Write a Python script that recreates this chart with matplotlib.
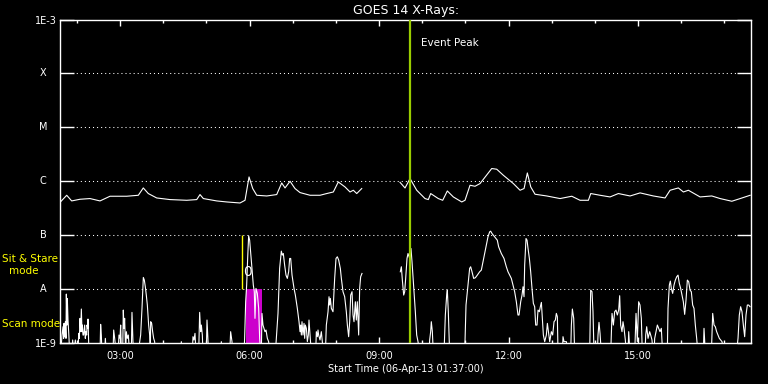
import matplotlib.pyplot as plt
import matplotlib.transforms as mtransforms
from matplotlib.ticker import MultipleLocator, FuncFormatter, NullLocator
import numpy as np

# GOES 14 X-ray flux, 06-Apr-13. time in hours UT, flux as log10(W/m^2)
# long channel (1-8 A)
long_hours = [1.617, 1.763, 1.878, 2.071, 2.303, 2.534, 2.766, 3.153, 3.422, 3.537,
              3.653, 3.848, 4.156, 4.543, 4.775, 4.851, 4.928, 5.238, 5.470, 5.778,
              5.894, 5.987, 6.072, 6.165, 6.397, 6.628, 6.744, 6.821, 6.937, 7.052,
              7.168, 7.400, 7.632, 7.787, 7.940, 8.055, 8.211, 8.327, 8.403, 8.482,
              8.598, 9.000,
              9.485, 9.601, 9.717, 9.872, 10.064, 10.141, 10.196, 10.257, 10.372, 10.474,
              10.581, 10.720, 10.915, 10.991, 11.107, 11.223, 11.339, 11.610, 11.726, 11.879,
              12.111, 12.266, 12.359, 12.435, 12.514, 12.613, 12.884, 13.193, 13.464, 13.656,
              13.849, 13.904, 14.120, 14.351, 14.544, 14.815, 15.047, 15.355, 15.626, 15.742,
              15.934, 16.050, 16.166, 16.437, 16.708, 16.901, 17.172, 17.366, 17.597]
long_log = [-6.384, -6.260, -6.365, -6.334, -6.321, -6.365, -6.278, -6.278, -6.260, -6.124,
            -6.228, -6.310, -6.340, -6.353, -6.340, -6.247, -6.321, -6.365, -6.384, -6.403,
            -6.353, -5.920, -6.135, -6.260, -6.273, -6.247, -6.032, -6.124, -6.000, -6.135,
            -6.210, -6.260, -6.260, -6.228, -6.199, -6.013, -6.106, -6.199, -6.167, -6.228,
            -6.135, np.nan,
            -6.020, -6.125, -5.950, -6.167, -6.321, -6.340, -6.228, -6.260, -6.321, -6.353,
            -6.180, -6.291, -6.384, -6.353, -6.074, -6.093, -6.043, -5.764, -5.777, -5.889,
            -6.043, -6.167, -6.135, -5.846, -6.106, -6.241, -6.273, -6.321, -6.278, -6.353,
            -6.353, -6.228, -6.260, -6.291, -6.228, -6.273, -6.216, -6.273, -6.310, -6.167,
            -6.124, -6.199, -6.167, -6.291, -6.273, -6.321, -6.371, -6.321, -6.260]

# short channel (0.5-4 A), values under 1E-9 run off the bottom
short_hours = [
    1.623, 1.654, 1.677, 1.692, 1.700, 1.715, 1.731, 1.746, 1.754, 1.769, 1.777, 1.793, 1.816, 1.831,
    1.885, 1.901, 1.924, 1.963, 1.986, 2.024, 2.040, 2.055, 2.071, 2.086, 2.102, 2.117, 2.125, 2.140,
    2.156, 2.171, 2.179, 2.194, 2.210, 2.225, 2.233, 2.248, 2.256, 2.279, 2.534, 2.549, 2.565, 2.580,
    2.642, 2.658, 2.681, 2.835, 2.851, 2.874, 2.912, 2.951, 2.974, 2.997, 3.013, 3.028, 3.059, 3.074,
    3.090, 3.105, 3.129, 3.144, 3.167, 3.190, 3.221, 3.260, 3.275, 3.298, 3.322, 3.414, 3.453, 3.476,
    3.507, 3.538, 3.561, 3.584, 3.607, 3.631, 3.661, 3.685, 3.700, 3.708, 3.731, 3.754, 3.777, 3.800,
    3.824, 4.403, 4.418, 4.434, 4.673, 4.688, 4.712, 4.735, 4.758, 4.820, 4.843, 4.866, 4.882, 4.905,
    4.920, 4.997, 5.013, 5.036, 5.051, 5.329, 5.345, 5.360, 5.538, 5.561, 5.592, 5.607, 5.870, 5.885,
    5.909, 5.932, 5.955, 5.978, 6.001, 6.024, 6.055, 6.086, 6.109, 6.125, 6.148, 6.179, 6.210, 6.233,
    6.256, 6.271, 6.287, 6.310, 6.333, 6.356, 6.380, 6.411, 6.441, 6.472, 6.596, 6.619, 6.658, 6.696,
    6.735, 6.758, 6.781, 6.812, 6.843, 6.874, 6.905, 6.928, 6.952, 6.983, 7.029, 7.060, 7.106, 7.145,
    7.168, 7.183, 7.199, 7.214, 7.237, 7.261, 7.276, 7.292, 7.315, 7.338, 7.361, 7.376, 7.400, 7.431,
    7.531, 7.546, 7.570, 7.585, 7.600, 7.631, 7.662, 7.685, 7.709, 7.755, 7.778, 7.817, 7.840, 7.855,
    7.871, 7.894, 7.932, 7.971, 8.002, 8.033, 8.064, 8.102, 8.126, 8.164, 8.203, 8.241, 8.265, 8.295,
    8.319, 8.342, 8.373, 8.396, 8.419, 8.450, 8.473, 8.496, 8.527, 8.550, 8.573, 8.604, 9.000,
    9.492, 9.516, 9.539, 9.570, 9.593, 9.616, 9.647, 9.670, 9.709, 9.739, 9.763, 9.786, 9.809, 9.840,
    9.871, 9.902, 9.940, 10.157, 10.172, 10.195, 10.210, 10.234, 10.257, 10.504, 10.535, 10.566, 10.581,
    10.604, 10.635, 10.983, 11.014, 11.044, 11.075, 11.098, 11.122, 11.153, 11.191, 11.230, 11.276,
    11.330, 11.369, 11.407, 11.446, 11.485, 11.523, 11.562, 11.585, 11.616, 11.678, 11.739, 11.770,
    11.832, 11.894, 11.948, 11.987, 12.025, 12.064, 12.102, 12.141, 12.180, 12.218, 12.242, 12.281,
    12.312, 12.335, 12.358, 12.373, 12.404, 12.428, 12.451, 12.482, 12.512, 12.543, 12.574, 12.605,
    12.628, 12.659, 12.682, 12.713, 12.736, 12.760, 12.783, 12.806, 12.837, 12.875, 12.899, 12.929,
    12.953, 12.991, 13.022, 13.053, 13.084, 13.107, 13.130, 13.146, 13.246, 13.261, 13.285, 13.339,
    13.377, 13.439, 13.455, 13.478, 13.509, 13.532, 13.879, 13.902, 13.933, 13.956, 13.980, 14.057,
    14.072, 14.095, 14.119, 14.150, 14.366, 14.397, 14.428, 14.458, 14.489, 14.520, 14.551, 14.574,
    14.597, 14.628, 14.651, 14.675, 14.705, 14.729, 14.767, 14.783, 14.813, 14.922, 14.953, 14.983,
    15.014, 15.045, 15.076, 15.099, 15.161, 15.177, 15.200, 15.231, 15.269, 15.292, 15.323, 15.347,
    15.370, 15.385, 15.447, 15.478, 15.509, 15.539, 15.570, 15.678, 15.694, 15.725, 15.748, 15.771,
    15.802, 15.833, 15.864, 15.895, 15.926, 15.956, 15.987, 16.018, 16.049, 16.080, 16.111, 16.142,
    16.173, 16.204, 16.234, 16.265, 16.296, 16.327, 16.358, 16.389, 16.512, 16.528, 16.559, 16.698,
    16.729, 16.760, 16.790, 16.821, 16.852, 16.883, 16.914, 16.945, 16.991, 17.277, 17.316, 17.346,
    17.377, 17.408, 17.439, 17.470, 17.501, 17.532, 17.563, 17.594]
short_log = [
    -9.2, -8.852, -8.698, -8.914, -8.636, -8.883, -8.605, -8.914, -8.093, -8.667, -8.173, -8.574, -8.914, -9.2,
    -9.2, -8.944, -9.2, -8.944, -9.2, -9.2, -8.821, -8.914, -8.543, -8.790, -8.370, -8.790, -8.667, -8.852,
    -8.852, -8.728, -8.667, -8.914, -8.790, -8.852, -8.667, -8.728, -8.556, -9.2, -9.2, -8.654, -8.852, -9.2,
    -9.2, -8.914, -9.2, -9.2, -8.759, -8.914, -9.2, -9.2, -8.852, -8.914, -8.667, -9.2, -9.2, -8.389,
    -8.728, -8.543, -9.2, -8.790, -8.914, -8.852, -9.2, -9.2, -8.432, -8.975, -9.2, -9.2, -8.975, -8.852,
    -8.358, -7.784, -7.833, -7.957, -8.111, -8.296, -8.667, -8.852, -9.2, -8.605, -8.636, -8.790, -8.914, -8.975,
    -9.2, -9.2, -8.975, -9.2, -9.2, -8.883, -8.944, -8.821, -9.2, -9.2, -8.432, -8.790, -8.667, -8.852,
    -9.2, -9.2, -8.574, -8.975, -9.2, -9.2, -8.975, -9.2, -9.2, -8.790, -8.975, -9.2, -9.2, -8.914,
    -8.235, -7.926, -7.432, -7.012, -7.093, -7.309, -7.617, -7.926, -8.049, -8.543, -7.988, -8.080, -8.358, -8.914,
    -9.2, -9.2, -8.451, -8.667, -8.728, -8.790, -8.759, -8.914, -8.975, -9.2, -9.2, -8.914, -8.451, -7.617,
    -7.296, -7.370, -7.340, -7.556, -7.741, -7.802, -7.679, -7.432, -7.432, -7.741, -7.988, -8.111, -8.358, -8.605,
    -8.790, -8.667, -8.852, -8.605, -8.852, -8.636, -8.914, -8.667, -8.728, -8.975, -8.852, -8.574, -8.852, -9.2,
    -9.2, -8.790, -8.883, -8.759, -8.852, -8.944, -8.790, -8.975, -9.2, -9.2, -8.667, -8.420, -8.142, -8.296,
    -8.173, -8.358, -8.420, -7.802, -7.432, -7.401, -7.463, -7.617, -7.802, -8.049, -8.142, -8.420, -8.667, -8.883,
    -8.605, -8.111, -8.049, -8.481, -8.605, -8.235, -8.574, -8.235, -8.852, -7.988, -7.772, -7.710, np.nan,
    -7.679, -7.586, -7.833, -8.111, -8.049, -7.802, -7.432, -7.340, -7.432, -7.247, -7.494, -7.772, -8.049, -8.420,
    -8.852, -8.975, -9.2, -9.2, -8.944, -8.790, -8.605, -8.790, -9.2, -9.2, -8.481, -8.111, -8.019,
    -8.420, -9.2, -9.2, -8.296, -8.049, -7.802, -7.617, -7.586, -7.679, -7.802, -7.790, -7.741,
    -7.679, -7.648, -7.494, -7.340, -7.185, -7.031, -6.938, -6.926, -6.969, -7.031, -7.093, -7.216,
    -7.340, -7.432, -7.586, -7.679, -7.741, -7.802, -7.926, -8.049, -8.235, -8.481, -8.481, -8.235,
    -8.111, -7.957, -8.142, -7.556, -7.062, -7.093, -7.247, -7.432, -7.679, -7.988, -8.265, -8.327,
    -8.667, -8.667, -8.389, -8.420, -8.327, -8.247, -8.543, -8.852, -8.975, -8.852, -8.636, -8.821,
    -8.975, -8.790, -8.852, -8.605, -8.574, -8.451, -8.512, -9.2, -9.2, -8.883, -8.975, -8.975,
    -9.2, -9.2, -8.667, -8.370, -8.543, -9.2, -9.2, -8.019, -8.049, -8.420, -9.2, -9.2,
    -8.852, -8.617, -8.821, -9.2, -9.2, -8.451, -8.667, -8.420, -8.389, -8.481, -8.389, -8.123,
    -8.667, -8.790, -8.605, -8.728, -8.944, -9.2, -9.2, -8.790, -9.2, -9.2, -8.451, -8.975,
    -8.235, -8.296, -8.543, -9.2, -9.2, -8.852, -8.698, -8.914, -8.790, -8.852, -8.944, -9.2,
    -9.2, -8.914, -8.667, -8.728, -8.790, -8.728, -9.2, -9.2, -8.358, -7.926, -7.852, -7.988,
    -8.080, -7.926, -7.833, -7.772, -7.741, -7.895, -7.988, -8.111, -8.235, -8.469, -8.204, -7.833,
    -7.864, -8.019, -8.049, -8.296, -8.358, -8.667, -8.914, -9.2, -9.2, -8.728, -9.2, -9.2,
    -8.451, -8.667, -8.698, -8.790, -8.852, -8.914, -8.944, -8.975, -9.2, -9.2, -8.914, -8.481,
    -8.327, -8.420, -8.667, -8.883, -8.481, -8.296, -8.296, -8.327]

class_levels = [1e-9, 1e-8, 1e-7, 1e-6, 1e-5, 1e-4, 1e-3]
class_labels = ['1E-9', 'A', 'B', 'C', 'M', 'X', '1E-3']

t_start, t_end = 1 + 37 / 60, 17 + 37 / 60
event_peak = 9.717
sit_stare = 5.831
scan_start, scan_end = 5.910, 6.281
marker_t, marker_flux = 5.956, 2.1e-8

fig = plt.figure(figsize=(7.68, 3.84), dpi=100, facecolor='black')
ax = fig.add_axes([60.4 / 768, 41 / 384, 690.6 / 768, 323.5 / 384])
ax.set_facecolor('black')

# dotted class lines
for lev in class_levels[1:-1]:
    ax.axhline(lev, color='white', lw=0.75, ls=(0, (1, 2.9)), zorder=1)

# scan mode block and sit & stare marker
ax.fill_between([scan_start, scan_end], 1e-9, 1e-8, color='#cc00cc', lw=0, zorder=2)
ax.vlines(sit_stare, 1e-8, 1e-7, color='#ffff00', lw=1, zorder=3)

ax.plot(long_hours, 10 ** np.array(long_log), color='white', lw=0.8, zorder=4)
ax.plot(short_hours, 10 ** np.array(short_log), color='white', lw=0.8, zorder=4)
ax.text(marker_t, marker_flux, '0', color='white', fontsize=10, ha='center', va='center', zorder=5)

ax.axvline(event_peak, color='#99cc00', lw=1.6, zorder=6)
ax.text(event_peak + 0.25, 10 ** -3.44, 'Event Peak', color='white', fontsize=7.5,
        ha='left', va='center')

ax.set_yscale('log')
ax.set_ylim(1e-9, 1e-3)
ax.set_xlim(t_start, t_end)

ax.set_yticks(class_levels)
ax.set_yticklabels(['1E-9', '', '', '', '', '', '1E-3'])
ax.yaxis.set_minor_locator(NullLocator())
ax.tick_params(axis='y', which='major', direction='in', length=10, width=1,
               left=True, right=True, colors='white', labelsize=7, pad=2.5)

trans = mtransforms.blended_transform_factory(ax.transAxes, ax.transData)
for lev, lab in zip(class_levels[1:-1], class_labels[1:-1]):
    ax.text(-0.0252, lev, lab, transform=trans, ha='center', va='center',
            color='white', fontsize=7)

ax.xaxis.set_major_locator(MultipleLocator(3))
ax.xaxis.set_minor_locator(MultipleLocator(1))
ax.xaxis.set_major_formatter(FuncFormatter(lambda v, p: '%02d:00' % int(round(v))))
ax.tick_params(axis='x', which='major', direction='in', length=4.5, width=1,
               top=True, bottom=True, colors='white', labelsize=7, pad=6)
ax.tick_params(axis='x', which='minor', direction='in', length=2.2, width=1,
               top=True, bottom=True, colors='white')

for sp in ax.spines.values():
    sp.set_color('white')
    sp.set_linewidth(1)

ax.set_title('GOES 14 X-Rays:', color='white', fontsize=9, pad=4)
ax.set_xlabel('Start Time (06-Apr-13 01:37:00)', color='white', fontsize=7, labelpad=2)

# instrument mode labels on the left
ax.text(-0.085, 10 ** -7.44, 'Sit & Stare', transform=trans, ha='left', va='center',
        color='#ffff00', fontsize=7.5, clip_on=False)
ax.text(-0.0527, 10 ** -7.66, 'mode', transform=trans, ha='center', va='center',
        color='#ffff00', fontsize=7.5, clip_on=False)
ax.text(-0.085, 10 ** -8.65, 'Scan mode', transform=trans, ha='left', va='center',
        color='#ffff00', fontsize=7.5, clip_on=False)

fig.savefig('out.png', dpi=100, facecolor='black')
